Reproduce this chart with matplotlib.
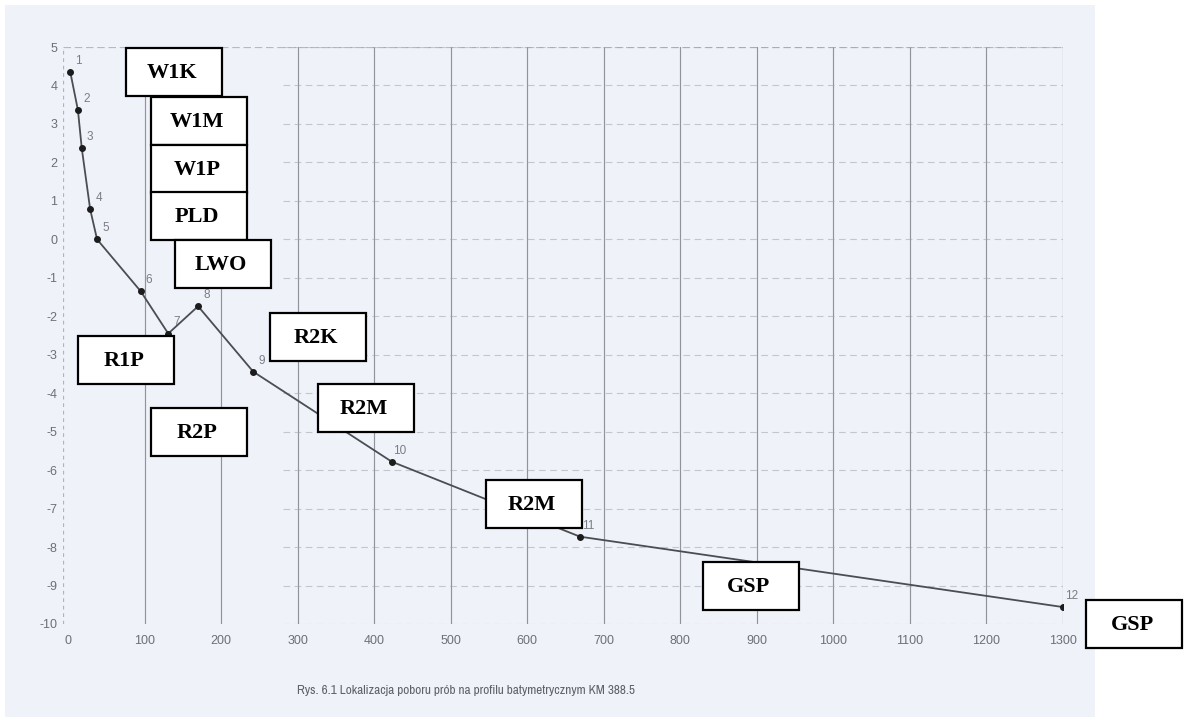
import matplotlib
matplotlib.use("Agg")
import matplotlib.pyplot as plt
from matplotlib.patches import Rectangle

# ---- data ----
distance = [3, 13, 18, 29, 38, 95, 131, 170, 242, 423, 669, 1300]
elevation = [4.35, 3.36, 2.37, 0.78, 0.0, -1.35, -2.45, -1.74, -3.44, -5.78, -7.73, -9.56]
point_ids = ["1", "2", "3", "4", "5", "6", "7", "8", "9", "10", "11", "12"]
x_ticks = [0, 100, 200, 300, 400, 500, 600, 700, 800, 900, 1000, 1100, 1200, 1300]
y_ticks = [5, 4, 3, 2, 1, 0, -1, -2, -3, -4, -5, -6, -7, -8, -9, -10]
sample_labels = ["W1K", "W1M", "W1P", "PLD", "LWO", "R2K", "R1P", "R2P", "R2M", "R2M", "GSP", "GSP"]
caption = "Rys. 6.1 Lokalizacja poboru prób na profilu batymetrycznym KM 388.5"

# ---- layout (pixel positions of label boxes: left, top) ----
box_xy = [(126, 48), (151, 97), (151, 145), (151, 192), (175, 240), (270, 313),
          (78, 336), (151, 408), (318, 384), (486, 480), (703, 562), (1086, 600)]
box_w, box_h = 96, 48

W, H = 1191, 718
fig = plt.figure(figsize=(W / 100, H / 100), dpi=100)
fig.patch.set_facecolor("white")

# background (scanned paper) on a bottom axes
bg = fig.add_axes([0, 0, 1, 1], zorder=-5)
bg.set_xlim(0, W)
bg.set_ylim(H, 0)
bg.axis("off")
bg.add_patch(Rectangle((5, 5), 1090, 712, facecolor="#eff2f9", edgecolor="none"))

ax = fig.add_axes([63 / W, 1 - 624 / H, 1000 / W, (624 - 47) / H], zorder=1)
ax.set_facecolor("none")
ax.set_xlim(-6.5, 1300)
ax.set_ylim(-10, 5)

# grid: vertical solid, horizontal dashed faint
for xv in x_ticks[1:]:
    ax.axvline(xv, color="#90949c", lw=0.85, zorder=1)
for yv in y_ticks:
    ax.axhline(yv, xmin=0.22, color="#9ea2ab", lw=0.8, ls=(0, (6, 4)), alpha=0.55, zorder=1)
ax.axhline(5, color="#9ea2ab", lw=0.9, ls=(0, (6, 3)), alpha=0.7, zorder=1)
ax.axvline(-6.5, color="#b0b4bc", lw=0.9, ls=(0, (3, 3)), zorder=1)

for s in ax.spines.values():
    s.set_visible(False)

ax.plot(distance, elevation, color="#4a4d52", lw=1.3, zorder=3)
ax.plot(distance, elevation, "o", color="#1c1c1c", ms=4, zorder=4)
for xv, yv, t in zip(distance, elevation, point_ids):
    ax.annotate(t, (xv, yv), xytext=(6, 8), textcoords="offset points",
                ha="center", va="center", fontsize=8.5, color="#7a7d83",
                family="Liberation Sans", zorder=4)

ax.set_xticks(x_ticks)
ax.set_yticks(y_ticks)
ax.set_xticklabels([str(v) for v in x_ticks])
ax.set_yticklabels([str(v) for v in y_ticks])
ax.tick_params(axis="x", length=0, labelsize=9, labelcolor="#6c6f75", pad=8)
ax.tick_params(axis="y", length=0, labelsize=9, labelcolor="#6c6f75", pad=4)
for lab in ax.get_xticklabels() + ax.get_yticklabels():
    lab.set_family("Liberation Sans")

# overlay for boxes
ov = fig.add_axes([0, 0, 1, 1], zorder=10)
ov.set_xlim(0, W)
ov.set_ylim(H, 0)
ov.axis("off")
ov.patch.set_alpha(0)
for (bx, by), lab in zip(box_xy, sample_labels):
    ov.add_patch(Rectangle((bx, by), box_w, box_h, facecolor="white",
                           edgecolor="black", lw=1.6))
    ov.text(bx + box_w / 2 - 2, by + box_h / 2 + 1, lab, ha="center", va="center",
            fontsize=16, fontweight="bold", family="Liberation Serif", color="black")

ov.text(466, 690, caption, ha="center", va="center", fontsize=9.5,
        color="#5f6268", family=["Archivo Narrow", "Liberation Sans"])

fig.savefig("out.png", dpi=100)
